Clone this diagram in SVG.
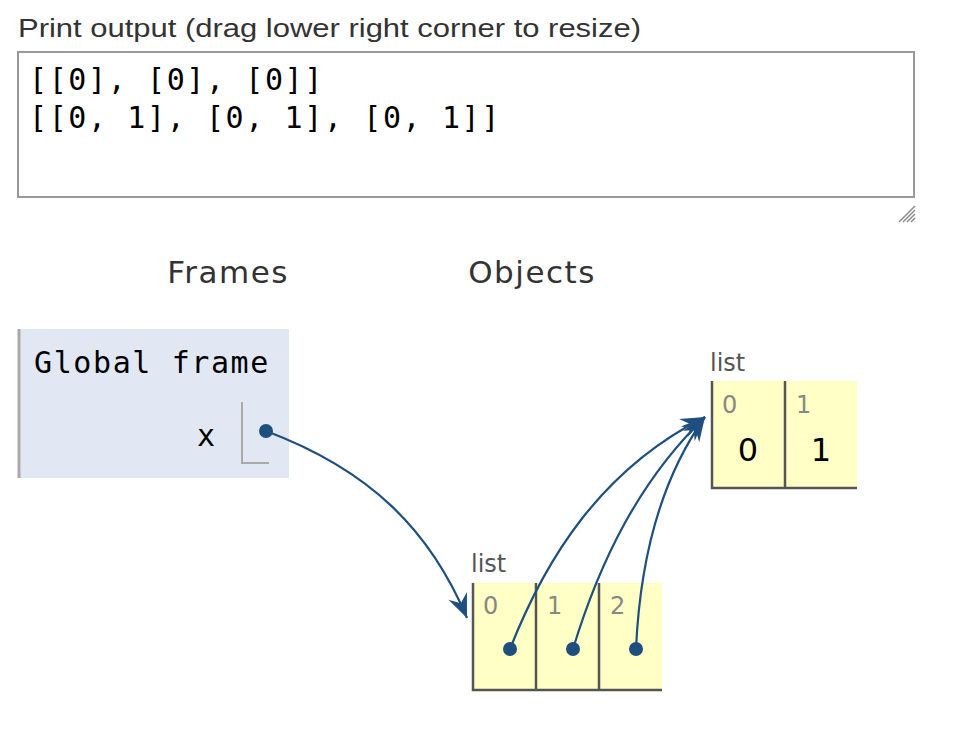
<svg xmlns="http://www.w3.org/2000/svg" width="970" height="740" viewBox="0 0 970 740">
<style>
.sans{font-family:"DejaVu Sans","Liberation Sans",sans-serif;}
.mono{font-family:"DejaVu Sans Mono","Liberation Mono",monospace;font-size:30px;letter-spacing:1.6px;fill:#000;}
.head{font-size:31px;fill:#333;text-anchor:middle;letter-spacing:1.5px;}
.lbl{font-size:24px;fill:#555;}
.idx{font-size:24px;fill:#888;}
.val{font-size:32px;fill:#000;text-anchor:middle;}
.cell{fill:#ffffc6;}
.bd{stroke:#555;stroke-width:2.5;fill:none;}
.edge{fill:none;stroke:#1e4f7f;stroke-width:2.2;}
.dot{fill:#1e4f7f;}
</style>
<defs>
<marker id="ah" markerUnits="userSpaceOnUse" markerWidth="32" markerHeight="26" viewBox="-26 -13 28 26" refX="0" refY="0" orient="auto">
<path d="M0,0 L-24,-10 L-16,0 L-24,10 Z" fill="#1e4f7f"/>
</marker>
</defs>
<rect width="970" height="740" fill="#fff"/>
<g id="print-output">
<text x="18" y="37" font-family="Liberation Sans, Arial, sans-serif" font-size="26" fill="#333" textLength="623" lengthAdjust="spacingAndGlyphs">Print output (drag lower right corner to resize)</text>
<rect x="18" y="52" width="896" height="145" fill="#fff" stroke="#999" stroke-width="2"/>
<text class="mono" x="29" y="90">[[0], [0], [0]]</text>
<text class="mono" x="29" y="128">[[0, 1], [0, 1], [0, 1]]</text>
<g stroke="#888" stroke-width="1.5">
<line x1="899" y1="222" x2="915" y2="206"/>
<line x1="903" y1="222" x2="915" y2="210"/>
<line x1="907" y1="222" x2="915" y2="214"/>
<line x1="911" y1="222" x2="915" y2="218"/>
</g>
</g>
<text class="sans head" x="228" y="283">Frames</text>
<text class="sans head" x="532" y="283">Objects</text>
<g id="global-frame">
<rect x="18" y="329" width="271" height="149" fill="#e2e8f3"/>
<line x1="19" y1="329" x2="19" y2="478" stroke="#aaa" stroke-width="3"/>
<text class="mono" x="34" y="373">Global frame</text>
<text class="mono" x="197" y="446">x</text>
<polyline points="242,402 242,463 269,463" fill="none" stroke="#aaa" stroke-width="2"/>
</g>
<g id="list-outer">
<text class="sans lbl" x="471" y="572">list</text>
<rect class="cell" x="472" y="583" width="190" height="107"/>
<path class="bd" d="M473,583 V690 H662 M536,583 V690 M599,583 V690"/>
<text class="sans idx" x="483" y="614">0</text>
<text class="sans idx" x="547" y="614">1</text>
<text class="sans idx" x="610" y="614">2</text>
</g>
<g id="list-inner">
<text class="sans lbl" x="710" y="371">list</text>
<rect class="cell" x="711" y="381" width="146" height="107"/>
<path class="bd" d="M712,381 V488 H857 M785,381 V488"/>
<text class="sans idx" x="722" y="413">0</text>
<text class="sans idx" x="796" y="413">1</text>
<text class="sans val" x="748" y="461">0</text>
<text class="sans val" x="821" y="461">1</text>
</g>
<g id="connectors">
<path class="edge" d="M266,431 C370,470 430,530 467,618" marker-end="url(#ah)"/>
<path class="edge" d="M510,649 C545,560 600,470 705,417" marker-end="url(#ah)"/>
<path class="edge" d="M573,649 C600,560 640,480 705,417" marker-end="url(#ah)"/>
<path class="edge" d="M636,649 C640,560 660,480 705,417" marker-end="url(#ah)"/>
<circle class="dot" cx="266" cy="431" r="7"/>
<circle class="dot" cx="510" cy="649" r="7"/>
<circle class="dot" cx="573" cy="649" r="7"/>
<circle class="dot" cx="636" cy="649" r="7"/>
</g>
</svg>
